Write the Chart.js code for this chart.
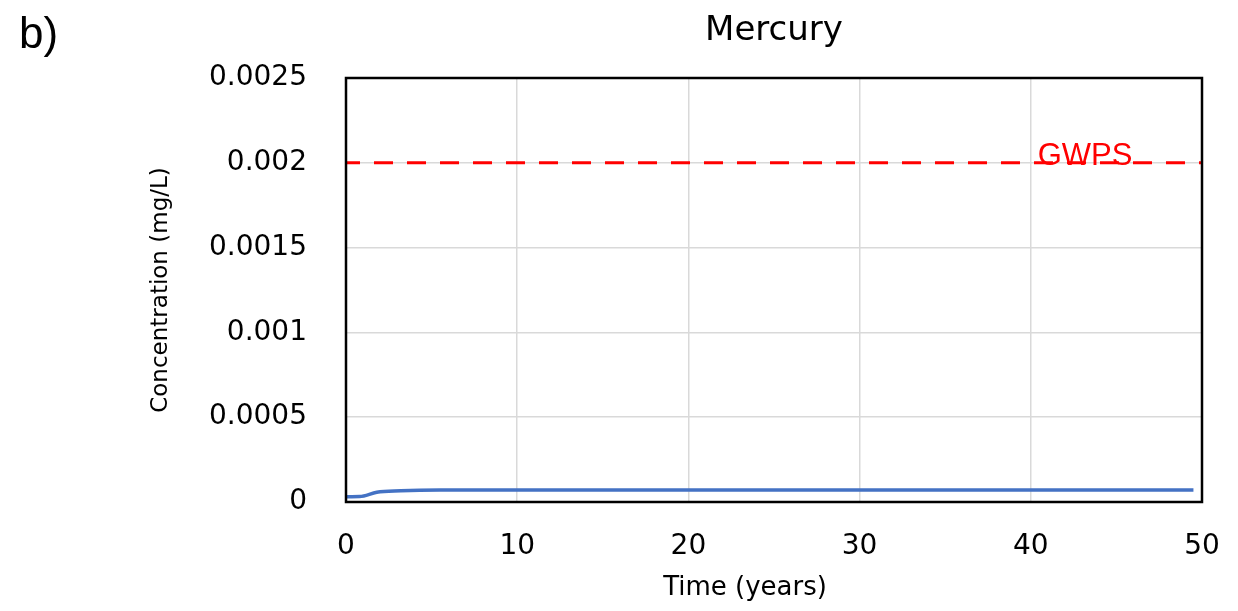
<!DOCTYPE html>
<html>
<head>
<meta charset="utf-8">
<title>Mercury</title>
<script src="https://cdn.jsdelivr.net/npm/chart.js@4/dist/chart.umd.min.js"></script>
<style>
  html, body { margin: 0; padding: 0; background: #ffffff; }
  #wrap { position: relative; width: 1238px; height: 611px; }
  canvas { display: block; }
</style>
</head>
<body>
<div id="wrap"><canvas id="c" width="1238" height="611"></canvas></div>
<script>
// Simulated mercury concentration over time (years -> mg/L)
const timeYears = [0, 0.8, 1.8, 3.2, 4.3, 5.5, 10, 20, 30, 40, 49.5];
const mercuryConc = [0.000031, 0.000032, 0.000057, 0.000066, 0.00007, 0.000071, 0.000071, 0.000071, 0.000071, 0.000071, 0.000071];

// Groundwater protection standard for mercury
const gwpsLevel = 0.002;
const gwpsSpan = [0, 50];
const gwpsLabel = 'GWPS';
const gwpsLabelAt = 40.4;

// Axis ticks
const xTicks = [0, 10, 20, 30, 40, 50];
const yTicks = [0, 0.0005, 0.001, 0.0015, 0.002, 0.0025];

const panelLabel = 'b)';
const chartTitle = 'Mercury';
const xTitle = 'Time (years)';
const yTitle = 'Concentration (mg/L)';

const mercuryPoints = timeYears.map((t, i) => ({ x: t, y: mercuryConc[i] }));
const gwpsPoints = gwpsSpan.map(t => ({ x: t, y: gwpsLevel }));

const frameAndLabels = {
  id: 'frameAndLabels',
  afterDraw(chart) {
    const { ctx, chartArea: a, scales } = chart;
    ctx.save();
    // plot frame
    ctx.strokeStyle = '#000000';
    ctx.lineWidth = 2.5;
    ctx.strokeRect(a.left, a.top, a.right - a.left, a.bottom - a.top);
    // GWPS label
    ctx.fillStyle = '#ff0000';
    ctx.font = '31px "Liberation Sans", Arial, sans-serif';
    ctx.textAlign = 'left';
    ctx.textBaseline = 'alphabetic';
    ctx.fillText(gwpsLabel, scales.x.getPixelForValue(gwpsLabelAt), scales.y.getPixelForValue(gwpsLevel) + 2);
    // x axis title
    ctx.fillStyle = '#000000';
    ctx.font = '26px "DejaVu Sans", sans-serif';
    ctx.textAlign = 'center';
    ctx.textBaseline = 'middle';
    ctx.fillText(xTitle, 745, 588);
    // panel label
    ctx.font = '44px "Liberation Sans", Arial, sans-serif';
    ctx.textAlign = 'left';
    ctx.textBaseline = 'alphabetic';
    ctx.fillText(panelLabel, 19, 48);
    ctx.restore();
  }
};

new Chart(document.getElementById('c'), {
  type: 'scatter',
  data: {
    datasets: [
      {
        label: 'Mercury',
        data: mercuryPoints,
        showLine: true,
        borderColor: '#4472c4',
        borderWidth: 3.5,
        pointRadius: 0,
        cubicInterpolationMode: 'monotone'
      },
      {
        label: gwpsLabel,
        data: gwpsPoints,
        showLine: true,
        borderColor: '#ff0000',
        borderWidth: 3,
        borderDash: [19, 14],
        borderDashOffset: 5,
        pointRadius: 0
      }
    ]
  },
  options: {
    responsive: false,
    animation: false,
    layout: { padding: { left: 0, right: 36, top: 0, bottom: 0 } },
    plugins: {
      legend: { display: false },
      tooltip: { enabled: false },
      title: {
        display: true,
        text: chartTitle,
        fullSize: false,
        color: '#000000',
        font: { family: '"DejaVu Sans", sans-serif', size: 34, weight: 'normal', lineHeight: 1.2 },
        padding: { top: 11, bottom: 26.2 }
      }
    },
    scales: {
      x: {
        type: 'linear',
        min: 0,
        max: 50,
        afterFit(s) { s.height = 109; s.paddingLeft = 0; s.paddingRight = 0; },
        afterBuildTicks(s) { s.ticks = xTicks.map(v => ({ value: v })); },
        grid: { color: '#d9d9d9', lineWidth: 1.5, drawTicks: false },
        border: { display: false },
        ticks: {
          color: '#000000',
          padding: 28,
          maxRotation: 0,
          font: { family: '"DejaVu Sans", sans-serif', size: 28 },
          callback: v => String(v)
        },
        title: { display: false }
      },
      y: {
        type: 'linear',
        min: 0,
        max: 0.0025,
        afterFit(s) { s.width = 346; s.paddingTop = 0; s.paddingBottom = 0; },
        afterBuildTicks(s) { s.ticks = yTicks.map(v => ({ value: v })); },
        grid: { color: '#d9d9d9', lineWidth: 1.5, drawTicks: false },
        border: { display: false },
        ticks: {
          color: '#000000',
          padding: 39,
          font: { family: '"DejaVu Sans", sans-serif', size: 28 },
          callback: v => String(parseFloat(Number(v).toFixed(4)))
        },
        title: {
          display: true,
          text: yTitle,
          color: '#000000',
          font: { family: '"DejaVu Sans", sans-serif', size: 23 },
          padding: { top: 147, bottom: 0 }
        }
      }
    }
  },
  plugins: [frameAndLabels]
});
</script>
</body>
</html>
